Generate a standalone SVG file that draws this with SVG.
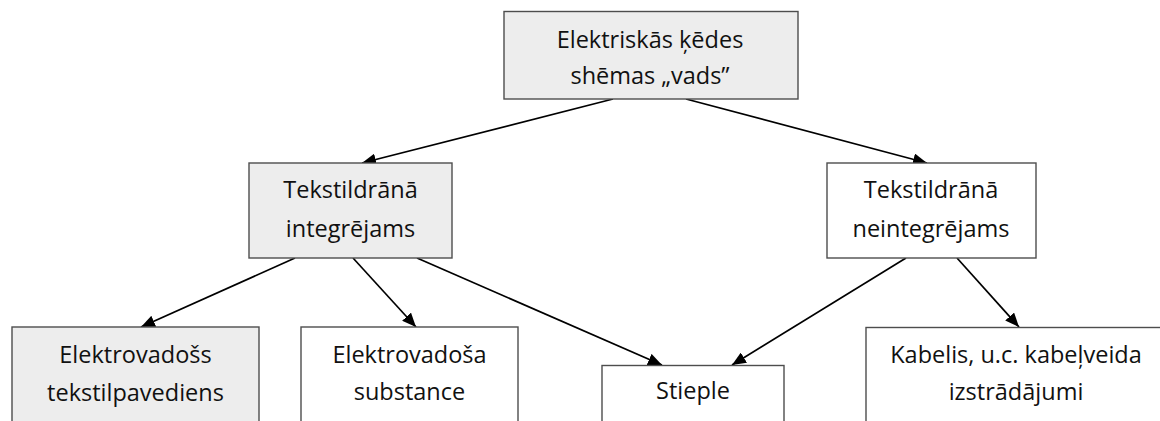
<svg xmlns="http://www.w3.org/2000/svg" width="1160" height="421" viewBox="0 0 1160 421">
<style>
.box{stroke:#4d4d4d;stroke-width:1.4}
.gray{fill:#ededed}
.white{fill:#ffffff}
.lbl{font-family:"Open Sans","Liberation Sans",sans-serif;font-size:23.5px;fill:#111111;text-anchor:middle}
.edge{stroke:#000;stroke-width:1.7;fill:none;marker-end:url(#arr)}
</style>
<defs>
<marker id="arr" markerUnits="userSpaceOnUse" markerWidth="14" markerHeight="12" viewBox="0 0 14 12" refX="14" refY="6" orient="auto">
<path d="M0,0 L14,6 L0,12 z" fill="#000"/>
</marker>
</defs>
<rect width="1160" height="421" fill="#ffffff"/>
<g id="connectors">
<line class="edge" x1="613" y1="99" x2="362" y2="163"/>
<line class="edge" x1="686" y1="99" x2="927" y2="163"/>
<line class="edge" x1="295" y1="258" x2="141" y2="327"/>
<line class="edge" x1="353" y1="258" x2="416" y2="327"/>
<line class="edge" x1="417" y1="258" x2="662" y2="365"/>
<line class="edge" x1="906" y1="258" x2="732" y2="365"/>
<line class="edge" x1="957" y1="258" x2="1019" y2="327"/>
</g>
<g id="root">
<rect class="box gray" x="504" y="11.5" width="294" height="87.5"/>
<text class="lbl" x="650" y="48">Elektriskās ķēdes</text>
<text class="lbl" x="650" y="84">shēmas „vads”</text>
</g>
<g id="integrejams">
<rect class="box gray" x="249" y="163" width="203" height="95"/>
<text class="lbl" x="350.5" y="198">Tekstildrānā</text>
<text class="lbl" x="350.5" y="237">integrējams</text>
</g>
<g id="neintegrejams">
<rect class="box white" x="827" y="163" width="209" height="95"/>
<text class="lbl" x="931" y="198">Tekstildrānā</text>
<text class="lbl" x="931" y="237">neintegrējams</text>
</g>
<g id="pavediens">
<rect class="box gray" x="12" y="327" width="247" height="110"/>
<text class="lbl" x="135.5" y="363">Elektrovadošs</text>
<text class="lbl" x="135.5" y="401">tekstilpavediens</text>
</g>
<g id="substance">
<rect class="box white" x="301" y="327" width="217" height="110"/>
<text class="lbl" x="409.5" y="363">Elektrovadoša</text>
<text class="lbl" x="409.5" y="400">substance</text>
</g>
<g id="stieple">
<rect class="box white" x="602" y="365.5" width="182" height="80"/>
<text class="lbl" x="693" y="399">Stieple</text>
</g>
<g id="kabelis">
<rect class="box white" x="866" y="327.5" width="310" height="110"/>
<text class="lbl" x="1016" y="363">Kabelis, u.c. kabeļveida</text>
<text class="lbl" x="1016" y="400">izstrādājumi</text>
</g>
</svg>
